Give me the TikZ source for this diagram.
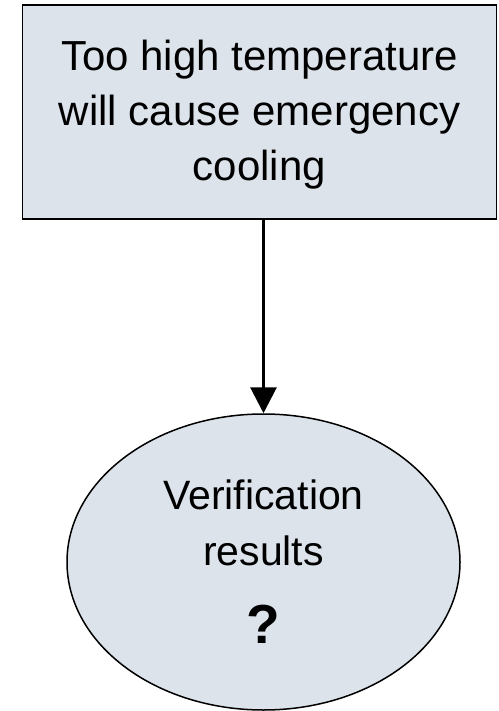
\documentclass[tikz,border=0pt]{standalone}
\usepackage{fontspec}
\setmainfont{Liberation Sans}
\usetikzlibrary{shapes.geometric,arrows.meta}
\definecolor{boxfill}{RGB}{220,227,234}
\tikzset{
  boxnode/.style={draw=black, line width=1.8pt, fill=boxfill, rectangle, inner sep=0pt,
    minimum width=474pt, minimum height=214pt, align=center,
    font=\fontsize{42}{55}\selectfont},
  ovalnode/.style={draw=black, line width=1.5pt, fill=boxfill, ellipse, inner sep=0pt,
    minimum width=393pt, minimum height=296pt, align=center,
    font=\fontsize{41}{56}\selectfont},
  link/.style={line width=3pt, -{Triangle[length=26pt,width=26pt]}}
}
\begin{document}
\begin{tikzpicture}[x=1pt,y=-1pt]
\useasboundingbox (0,0) rectangle (498,711);
\node[boxnode] (top) at (259.5,112) {\rule{0pt}{35pt}Too high temperature\\will cause emergency\\cooling};
\node[ovalnode] (res) at (263.5,562) {Verification\\results\\[22pt]{\fontsize{55}{60}\selectfont\bfseries ?}};
\draw[link] (top.south -| res.north) -- (res.north);
\end{tikzpicture}
\end{document}
